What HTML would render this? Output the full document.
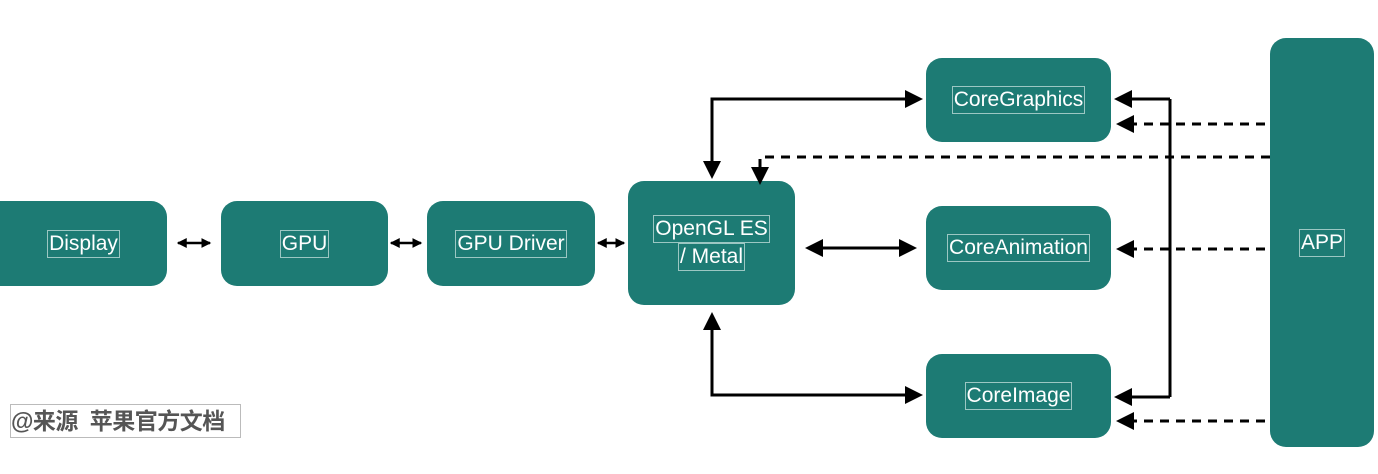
<!DOCTYPE html>
<html><head><meta charset="utf-8"><style>
body{margin:0;background:#fff;width:1378px;height:474px;overflow:hidden;position:relative;font-family:"Liberation Sans",sans-serif}
.b{position:absolute;background:#1d7b74;border-radius:16px;display:flex;align-items:center;justify-content:center;flex-direction:column}
.t{color:#fff;font-size:21px;border:1px solid #9cc7c3;padding:0 1px;line-height:26px}
svg{position:absolute;left:0;top:0;z-index:5}
.w{position:absolute;left:10px;top:404px;width:229px;height:32px;border:1px solid #bbb;color:#555;font-size:23px;line-height:32px;font-weight:bold;font-family:"Liberation Sans","Noto Sans CJK SC",sans-serif;white-space:nowrap;letter-spacing:-0.5px}
</style></head><body>
<div class="b" style="left:0;top:201px;width:167px;height:85px;border-radius:0 16px 16px 0"><span class="t">Display</span></div>
<div class="b" style="left:221px;top:201px;width:167px;height:85px"><span class="t">GPU</span></div>
<div class="b" style="left:427px;top:201px;width:168px;height:85px"><span class="t">GPU Driver</span></div>
<div class="b" style="left:628px;top:181px;width:167px;height:124px"><span class="t">OpenGL ES</span><span class="t">/ Metal</span></div>
<div class="b" style="left:926px;top:58px;width:185px;height:84px"><span class="t">CoreGraphics</span></div>
<div class="b" style="left:926px;top:206px;width:185px;height:84px"><span class="t">CoreAnimation</span></div>
<div class="b" style="left:926px;top:354px;width:185px;height:84px"><span class="t">CoreImage</span></div>
<div class="b" style="left:1270px;top:38px;width:104px;height:409px"><span class="t">APP</span></div>
<div class="w">@来源&nbsp; 苹果官方文档</div>
<svg width="1378" height="474">
<defs><marker id="a" markerWidth="6" markerHeight="6" refX="5" refY="3" orient="auto-start-reverse" markerUnits="strokeWidth"><path d="M0,0L6,3L0,6z" fill="#000"/></marker>
<marker id="s" markerWidth="4" markerHeight="4" refX="3.5" refY="2" orient="auto-start-reverse" markerUnits="strokeWidth"><path d="M0,0L4,2L0,4z" fill="#000"/></marker></defs>
<g stroke="#000" stroke-width="3" fill="none">
<path d="M178,243H210" stroke-width="2.5" marker-start="url(#s)" marker-end="url(#s)"/>
<path d="M391,243H421" stroke-width="2.5" marker-start="url(#s)" marker-end="url(#s)"/>
<path d="M598,243H624" stroke-width="2.5" marker-start="url(#s)" marker-end="url(#s)"/>
<path d="M712,176V99H920" marker-start="url(#a)" marker-end="url(#a)"/>
<path d="M712,315V395H920" marker-start="url(#a)" marker-end="url(#a)"/>
<path d="M808,248H914" marker-start="url(#a)" marker-end="url(#a)"/>
<path d="M1170,99V397"/>
<path d="M1170,99H1117" marker-end="url(#a)"/>
<path d="M1170,397H1117" marker-end="url(#a)"/>
<g stroke-dasharray="9,7">
<path d="M1265,124H1119" marker-end="url(#a)"/>
<path d="M1270,157H760V182" marker-end="url(#a)"/>
<path d="M1265,249H1119" marker-end="url(#a)"/>
<path d="M1265,421H1119" marker-end="url(#a)"/>
</g></g></svg>
</body></html>
